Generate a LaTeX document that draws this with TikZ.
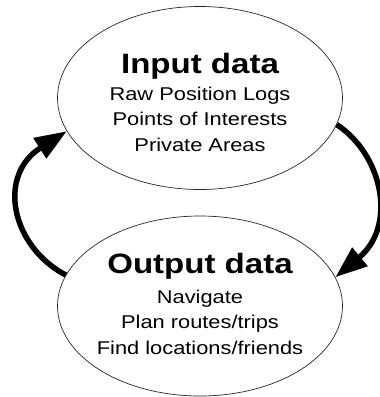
\documentclass[tikz,border=0pt]{standalone}
\usepackage{fontspec}
\newfontfamily\diagfont{Liberation Sans}[FakeStretch=1.18]
\usetikzlibrary{shapes.geometric, arrows.meta}
\tikzstyle{bubble} = [ellipse, draw=black!85, line width=0.7pt, inner sep=0pt, minimum width=285pt, minimum height=183pt]
\tikzstyle{heading} = [anchor=base, inner sep=0pt, font=\diagfont\bfseries\fontsize{28}{30}\selectfont]
\tikzstyle{items} = [anchor=north, inner sep=0pt, align=center, font=\diagfont\fontsize{18.5}{25.3}\selectfont]
\tikzstyle{arrow} = [line width=5.5pt, -{Triangle[length=32pt, width=23pt]}]

\begin{document}
\begin{tikzpicture}[x=1pt, y=-1pt]
\useasboundingbox (0, 0) rectangle (380, 397);

\node at (200, 98) (input) [bubble] {};
\node at (200, 306) (output) [bubble, minimum height=180pt] {};

\node at (200, 73) (inputtitle) [heading] {Input data};
\node at (200, 87) (inputitems) [items] {Raw Position Logs \\ Points of Interests \\ Private Areas};
\node at (200, 273) (outputtitle) [heading] {Output data};
\node at (200, 290) (outputitems) [items] {Navigate \\ Plan routes/trips \\ Find locations/friends};

\draw [arrow] (output.167) .. controls (12, 247) and (-4, 176) .. (input.194);
\draw [arrow] (input.349) .. controls (383, 155) and (397, 226) .. (output.12);

\end{tikzpicture}
\end{document}
